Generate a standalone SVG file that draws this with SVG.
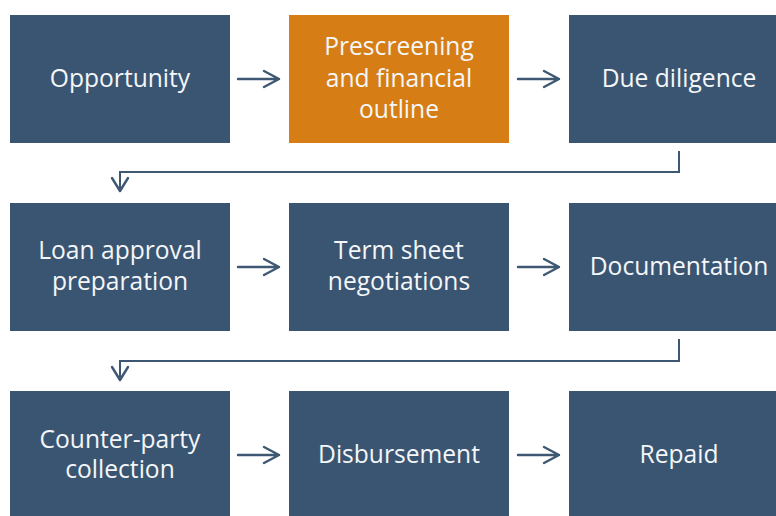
<svg xmlns="http://www.w3.org/2000/svg" width="776" height="516" viewBox="0 0 776 516">
<defs>
<style>
.box{fill:#3A5572;}
.hl{fill:#D67E15;}
.t{fill:#F4F6F8;font-family:"Open Sans","Noto Sans",sans-serif;font-size:24.6px;text-anchor:middle;}
.ln{fill:none;stroke:#3E5874;stroke-width:2.4;stroke-linecap:round;stroke-linejoin:round;}
.cn{fill:none;stroke:#3E5874;stroke-width:2;}
</style>
</defs>
<rect width="776" height="516" fill="#FFFFFF"/>
<g id="n1"><rect class="box" x="10" y="15" width="220" height="128"/><text class="t" x="120" y="87">Opportunity</text></g>
<g id="n2"><rect class="hl" x="289" y="15" width="220" height="128"/><text class="t" x="399" y="55">Prescreening</text><text class="t" x="399" y="87">and financial</text><text class="t" x="399" y="118">outline</text></g>
<g id="n3"><rect class="box" x="569" y="15" width="220" height="128"/><text class="t" x="679" y="87">Due diligence</text></g>
<g id="n4"><rect class="box" x="10" y="203" width="220" height="128"/><text class="t" x="120" y="259">Loan approval</text><text class="t" x="120" y="290">preparation</text></g>
<g id="n5"><rect class="box" x="289" y="203" width="220" height="128"/><text class="t" x="399" y="259">Term sheet</text><text class="t" x="399" y="290">negotiations</text></g>
<g id="n6"><rect class="box" x="569" y="203" width="220" height="128"/><text class="t" x="679" y="275">Documentation</text></g>
<g id="n7"><rect class="box" x="10" y="391" width="220" height="128"/><text class="t" x="120" y="448">Counter-party</text><text class="t" x="120" y="478">collection</text></g>
<g id="n8"><rect class="box" x="289" y="391" width="220" height="128"/><text class="t" x="399" y="463">Disbursement</text></g>
<g id="n9"><rect class="box" x="569" y="391" width="220" height="128"/><text class="t" x="679" y="463">Repaid</text></g>
<g id="connectors">
<path class="ln" d="M238 79H279M264 71L279 79L264 87"/>
<path class="ln" d="M518 79H559M544 71L559 79L544 87"/>
<path class="ln" d="M238 267H279M264 259L279 267L264 275"/>
<path class="ln" d="M518 267H559M544 259L559 267L544 275"/>
<path class="ln" d="M238 455H279M264 447L279 455L264 463"/>
<path class="ln" d="M518 455H559M544 447L559 455L544 463"/>
<path class="cn" d="M679 151V172H120V191"/>
<path class="ln" d="M112 178L120 191L128 178"/>
<path class="cn" d="M679 339V361H120V380"/>
<path class="ln" d="M112 367L120 380L128 367"/>
</g>
</svg>
